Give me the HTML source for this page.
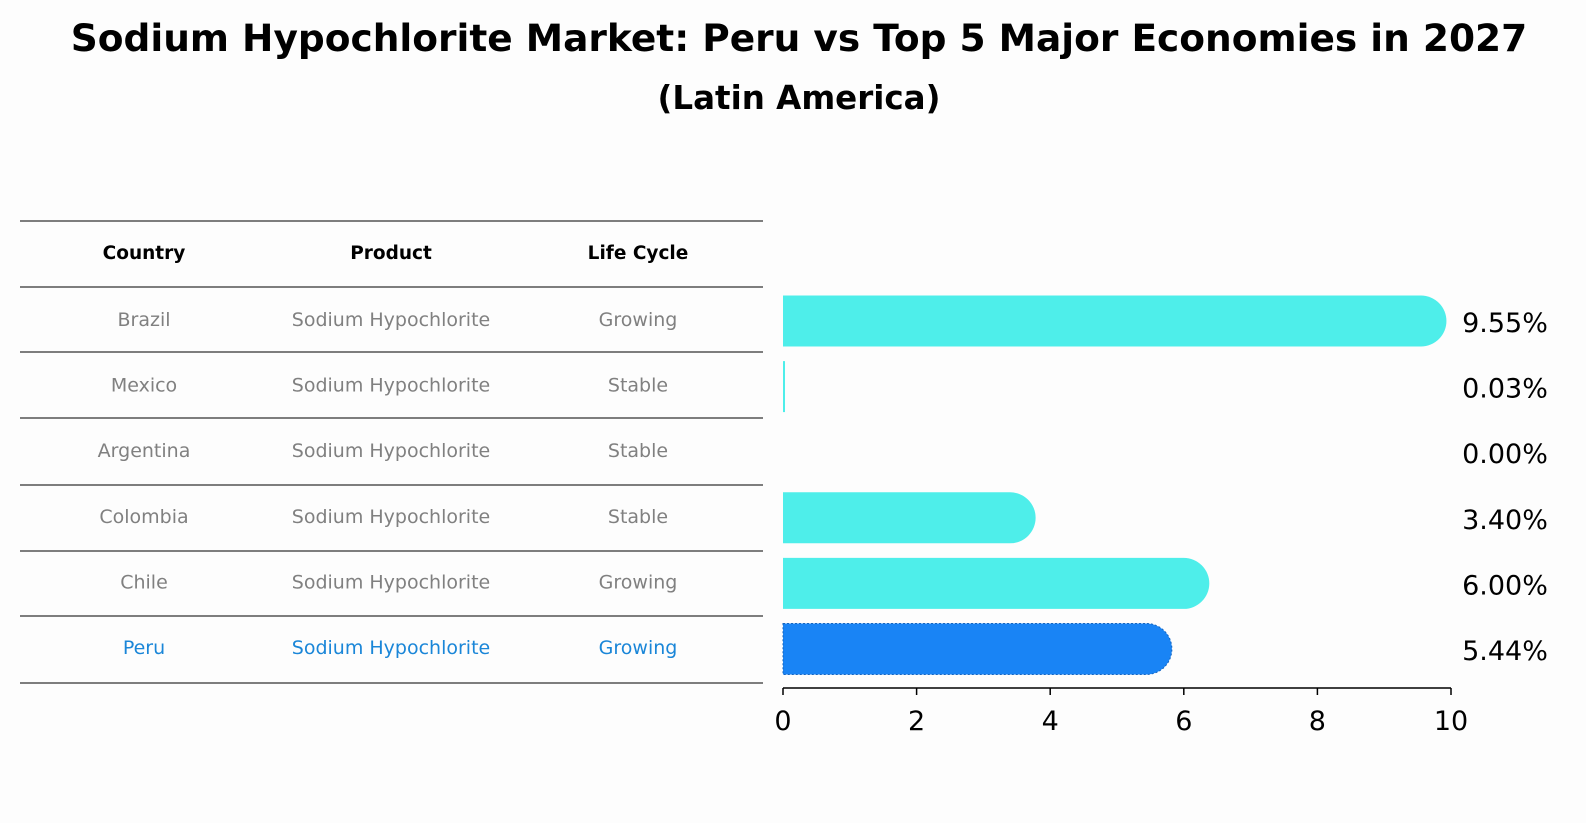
<!DOCTYPE html>
<html><head><meta charset="utf-8"><style>
body{margin:0;background:#fdfdfd;font-family:"DejaVu Sans","Liberation Sans",sans-serif;overflow:hidden;}
</style></head><body>
<svg width="1586" height="823" xmlns="http://www.w3.org/2000/svg" id="svg" style="display:block">
<rect width="1586" height="823" fill="#fdfdfd"/>
<text x="799" y="51" text-anchor="middle" font-size="37.5" font-weight="bold">Sodium Hypochlorite Market: Peru vs Top 5 Major Economies in 2027</text>
<text x="799" y="109" text-anchor="middle" font-size="32.5" font-weight="bold">(Latin America)</text>
<g id="table"></g>
<g id="bars"></g>
</svg>
<script>
const countries=["Brazil","Mexico","Argentina","Colombia","Chile","Peru"];
const products=["Sodium Hypochlorite","Sodium Hypochlorite","Sodium Hypochlorite","Sodium Hypochlorite","Sodium Hypochlorite","Sodium Hypochlorite"];
const lifeCycles=["Growing","Stable","Stable","Stable","Growing","Growing"];
const values=[9.55,0.03,0.00,3.40,6.00,5.44];
const valueLabels=["9.55%","0.03%","0.00%","3.40%","6.00%","5.44%"];
const ticks=[0,2,4,6,8,10];
const NS="http://www.w3.org/2000/svg";
function mk(t,a,p){const e=document.createElementNS(NS,t);for(const k in a)e.setAttribute(k,a[k]);p.appendChild(e);return e;}
const tbl=document.getElementById('table'),bars=document.getElementById('bars');
const lineYs=[221,287,352,418,485,551,616,683];
lineYs.forEach(y=>{const l=mk('line',{x1:20,x2:763,y1:y,y2:y,stroke:'#000','stroke-width':1},tbl);

});
const colX=[144,391,638];
["Country","Product","Life Cycle"].forEach((h,i)=>{const t=mk('text',{x:colX[i],y:259,'text-anchor':'middle','font-size':18.5,'font-weight':'bold'},tbl);t.textContent=h;

});
const rowY=i=>320+i*65.6;
countries.forEach((c,i)=>{const col=i===5?'#1a86d8':'#808080';
[c,products[i],lifeCycles[i]].forEach((v,j)=>{const t=mk('text',{x:colX[j],y:rowY(i)+6,'text-anchor':'middle','font-size':19,fill:col},tbl);t.textContent=v;

});});
const x0=783,x1=1451,xs=v=>x0+(x1-x0)*v/10,bh=51,r=25.5;
values.forEach((v,i)=>{const cy=rowY(i)+1,fill=i===5?'#1984f5':'#4eeeea';
const w=xs(v)-x0;
let p;
if(v<=0)return;
if(w<r){p=mk('rect',{x:x0,y:cy-bh/2,width:Math.max(w,1.5),height:bh,fill:fill},bars);}
else{p=mk('path',{d:`M${x0},${cy-bh/2}H${xs(v)}A${r},${r} 0 0 1 ${xs(v)},${cy+bh/2}H${x0}Z`,fill:fill},bars);
if(i===5){p.setAttribute('stroke','#1565c0');p.setAttribute('stroke-dasharray','2,2');p.setAttribute('stroke-width','1');}}

});
values.forEach((v,i)=>{const t=mk('text',{x:1505,y:rowY(i)+12,'text-anchor':'middle','font-size':27},bars);t.textContent=valueLabels[i];

});
const ax=mk('line',{x1:x0,x2:x1,y1:688,y2:688,stroke:'#000','stroke-width':1.5},bars);


ticks.forEach(tv=>{const tk=mk('line',{x1:xs(tv),x2:xs(tv),y1:688,y2:695,stroke:'#000','stroke-width':1.5},bars);


const t=mk('text',{x:xs(tv),y:730,'text-anchor':'middle','font-size':27},bars);t.textContent=tv;

});
</script>
</body></html>
